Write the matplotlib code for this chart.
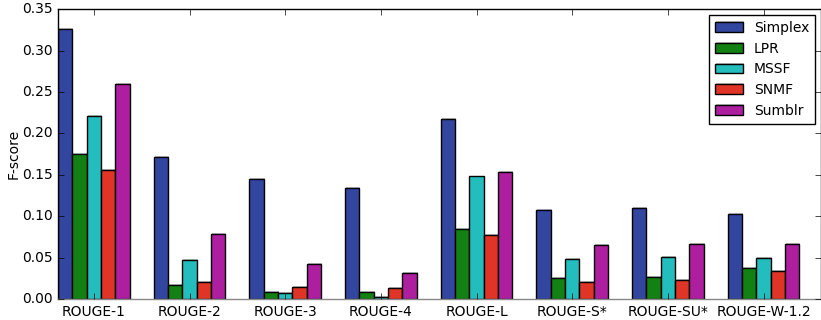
import matplotlib
matplotlib.use("Agg")
import matplotlib.pyplot as plt
import matplotlib.patheffects as pe
import numpy as np

plt.style.use("classic")
plt.rcParams["font.family"] = ["DejaVu Sans"]
plt.rcParams["font.size"] = 10

metrics = ["ROUGE-1", "ROUGE-2", "ROUGE-3", "ROUGE-4", "ROUGE-L",
           "ROUGE-S*", "ROUGE-SU*", "ROUGE-W-1.2"]
methods = ["Simplex", "LPR", "MSSF", "SNMF", "Sumblr"]

simplex = [0.326, 0.171, 0.145, 0.134, 0.218, 0.107, 0.110, 0.103]
lpr     = [0.175, 0.017, 0.009, 0.008, 0.085, 0.025, 0.027, 0.037]
mssf    = [0.221, 0.047, 0.007, 0.002, 0.148, 0.048, 0.051, 0.050]
snmf    = [0.156, 0.020, 0.014, 0.013, 0.077, 0.021, 0.023, 0.034]
sumblr  = [0.260, 0.078, 0.042, 0.031, 0.153, 0.065, 0.067, 0.066]

series = [simplex, lpr, mssf, snmf, sumblr]
colors = ["#3246a0", "#128012", "#23bdbd", "#e03426", "#ae1fa0"]

fig = plt.figure(figsize=(8.21, 3.20), dpi=100)
fig.patch.set_facecolor("white")
ax = fig.add_axes([58 / 821, 21 / 320, 763 / 821, 289.7 / 320])

x = np.arange(len(metrics))
width = 0.15
shadow = [pe.SimplePatchShadow(offset=(0.7, 0.7), shadow_rgbFace="#999999", alpha=0.6),
          pe.Normal()]
for k, (name, vals, col) in enumerate(zip(methods, series, colors)):
    bars = ax.bar(x + (k - 2) * width, vals, width, color=col,
                  edgecolor="black", linewidth=1.0, label=name, align="center")
    for b in bars:
        b.set_path_effects(shadow)

ax.set_xlim(-0.375, 7.6)
ax.set_ylim(0, 0.35)
ax.set_yticks(np.arange(0, 0.351, 0.05))
ax.set_yticklabels([f"{v:.2f}" for v in np.arange(0, 0.351, 0.05)])
ax.set_xticks(x)
ax.set_xticklabels(metrics)
ax.set_ylabel("F-score", labelpad=1)
ax.tick_params(axis="both", direction="in", labelsize=10, length=4)
ax.spines["bottom"].set_color("#888888")

leg = ax.legend(loc="upper right", fontsize=10, fancybox=False,
                borderaxespad=0.4, handlelength=2.0, labelspacing=0.48,
                borderpad=0.45)
leg.get_frame().set_edgecolor("black")

fig.savefig("out.png", dpi=100, facecolor="white")
